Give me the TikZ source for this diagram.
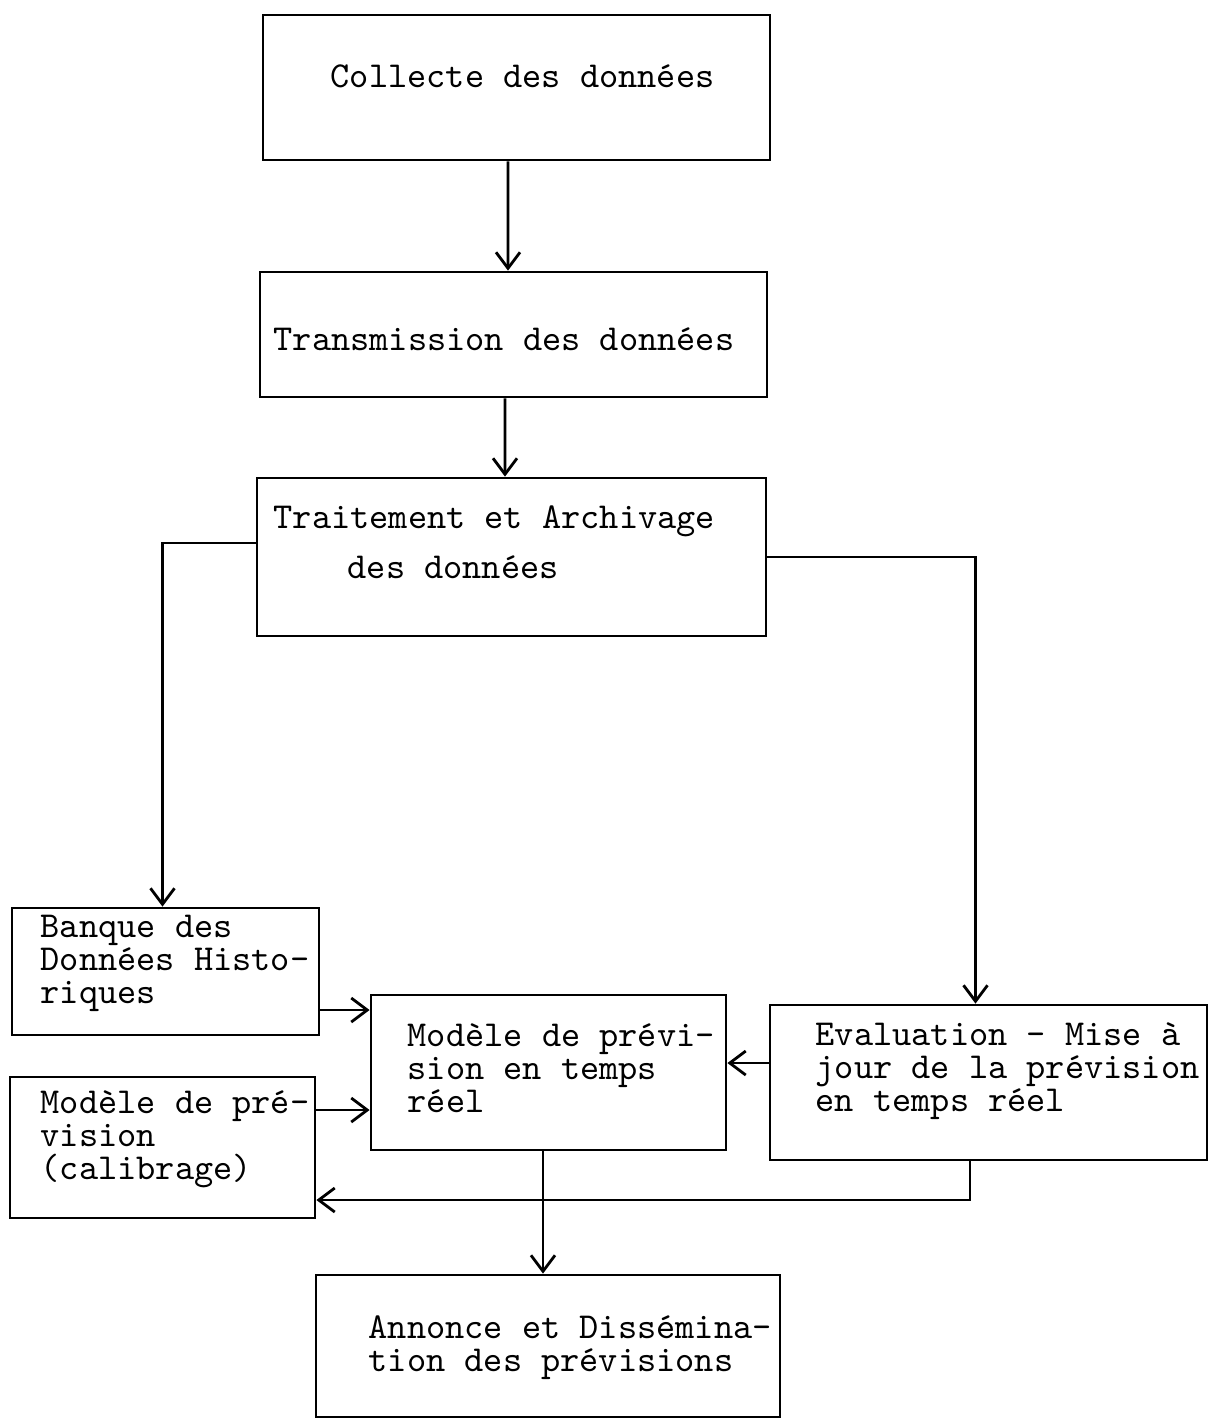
\documentclass[tikz,border=0pt]{standalone}
\usepackage{tikz}
\usetikzlibrary{arrows.meta}
\usetikzlibrary{positioning}

\begin{document}
\begin{tikzpicture}
    \tikzstyle{edge}  = [thick,draw=black]
    \tikzstyle{dedge} = [thick,->,>={Straight Barb[length=1.6mm,width=2.4mm]},draw=black]
    \tikzstyle{box}=[
      draw=black,
      rectangle,
      thick,
      inner sep=0pt,
    ]
    \tikzstyle{txt}=[
      anchor=base west,
      align=left,
      inner sep=0pt,
      font=\fontsize{10.4}{9.35}\selectfont\ttfamily,
    ]

    \useasboundingbox (0,0) rectangle (12.15,-14.2);

    \node[box,minimum width=5.07cm,minimum height=1.45cm] (collecte) at (5.165,-0.875) {};
    \node[box,minimum width=5.07cm,minimum height=1.25cm] (transm) at (5.135,-3.345) {};
    \node[box,minimum width=5.09cm,minimum height=1.58cm] (traite) at (5.115,-5.57) {};
    \node[box,minimum width=3.07cm,minimum height=1.27cm] (banque) at (1.655,-9.715) {};
    \node[box,minimum width=3.05cm,minimum height=1.41cm] (calib) at (1.625,-11.475) {};
    \node[box,minimum width=3.55cm,minimum height=1.55cm] (modele) at (5.485,-10.725) {};
    \node[box,minimum width=4.37cm,minimum height=1.55cm] (evalu) at (9.885,-10.825) {};
    \node[box,minimum width=4.64cm,minimum height=1.42cm] (annonce) at (5.48,-13.46) {};

    \node[txt] (t-collecte) at (3.30,-0.87) {Collecte des données};
    \node[txt] (t-transm) at (2.73,-3.50) {Transmission des données};
    \node[txt] (t-traite) at (2.73,-5.78) {Traitement et Archivage\\[4.8pt]\hspace*{0.74cm}des données};
    \node[txt] (t-banque) at (0.40,-10.03) {Banque des\\Données Histo-\\riques};
    \node[txt] (t-calib) at (0.40,-11.79) {Modèle de pré-\\vision\\(calibrage)};
    \node[txt] (t-modele) at (4.07,-11.12) {Modèle de prévi-\\sion en temps\\réel};
    \node[txt] (t-evalu) at (8.15,-11.11) {Evaluation - Mise à\\jour de la prévision\\en temps réel};
    \node[txt] (t-annonce) at (3.68,-13.71) {Annonce et Dissémina-\\tion des prévisions};

    \draw[dedge] ([xshift=-0.085cm]collecte.south) -- ([xshift=-0.055cm]transm.north);
    \draw[dedge] ([xshift=-0.085cm]transm.south) -- ([xshift=-0.065cm]traite.north);
    \draw[dedge] ([yshift=0.14cm]traite.west) -| ([xshift=-0.03cm]banque.north);
    \draw[dedge] (traite.east) -| ([xshift=-0.13cm]evalu.north);
    \draw[dedge] ([yshift=-0.385cm]banque.east) -- ([yshift=-0.385cm]banque.east -| modele.west);
    \draw[dedge] ([yshift=0.375cm]calib.east) -- ([yshift=0.375cm]calib.east -| modele.west);
    \draw[dedge] ([yshift=0.195cm]evalu.west) -- ([yshift=0.195cm]evalu.west -| modele.east);
    \draw[dedge] ([xshift=-0.185cm]evalu.south) |- ([yshift=-0.525cm]calib.east);
    \draw[dedge] ([xshift=-0.055cm]modele.south) -- ([xshift=-0.055cm]modele.south |- annonce.north);
\end{tikzpicture}
\end{document}
